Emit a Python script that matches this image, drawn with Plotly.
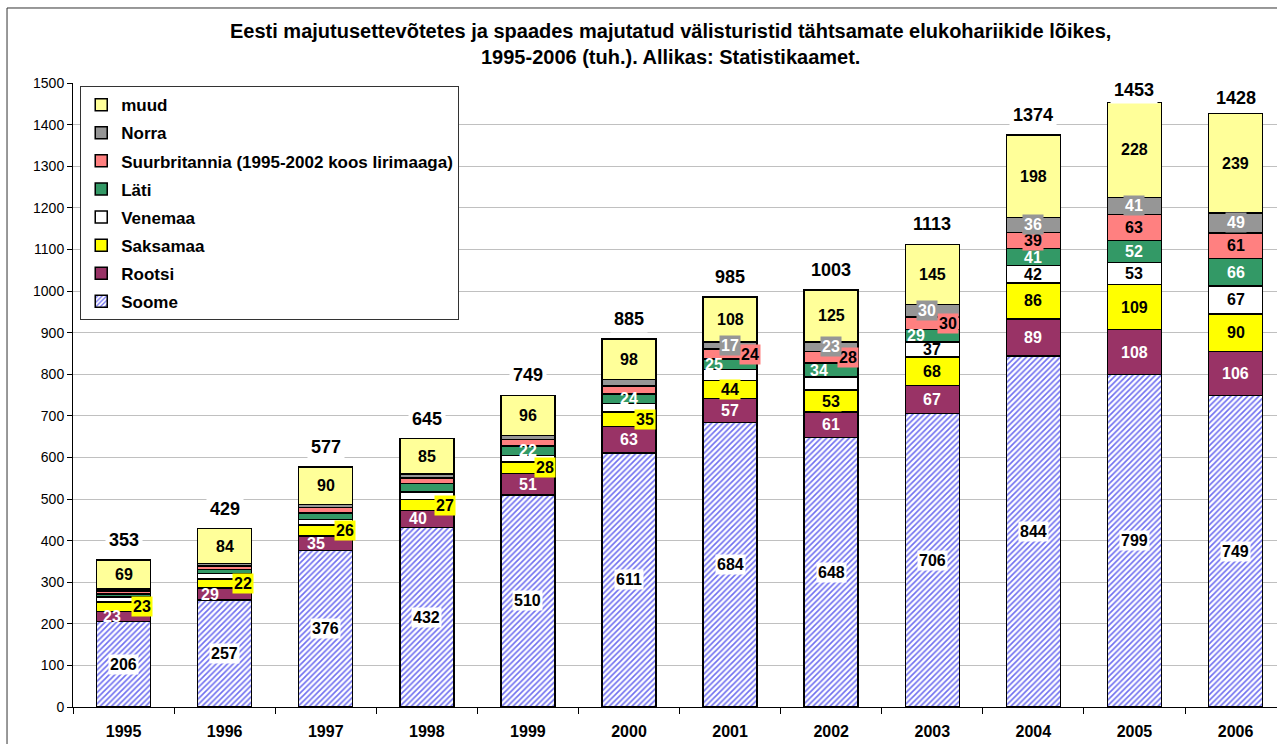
import plotly.graph_objects as go

years = ["1995", "1996", "1997", "1998", "1999", "2000", "2001", "2002", "2003", "2004", "2005", "2006"]
soome = [206, 257, 376, 432, 510, 611, 684, 648, 706, 844, 799, 749]
rootsi = [23, 29, 35, 40, 51, 63, 57, 61, 67, 89, 108, 106]
saksamaa = [23, 22, 26, 27, 28, 35, 44, 53, 68, 86, 109, 90]
venemaa = [12, 13, 14, 18, 16, 20, 26, 31, 37, 42, 53, 67]
lati = [8, 9, 15, 20, 22, 24, 25, 34, 29, 41, 52, 66]
suurbritannia = [7, 9, 13, 14, 16, 19, 24, 28, 30, 39, 63, 61]
norra = [5, 6, 8, 9, 10, 15, 17, 23, 30, 36, 41, 49]
muud = [69, 84, 90, 85, 96, 98, 108, 125, 145, 198, 228, 239]
totals = [353, 429, 577, 645, 749, 885, 985, 1003, 1113, 1374, 1453, 1428]

names = ["Soome", "Rootsi", "Saksamaa", "Venemaa", "Läti",
         "Suurbritannia (1995-2002 koos Iirimaaga)", "Norra", "muud"]
series = [soome, rootsi, saksamaa, venemaa, lati, suurbritannia, norra, muud]
colors = ["#ffffff", "#993366", "#ffff00", "#ffffff", "#339966", "#ff8080", "#969696", "#ffff99"]

# label styling: which years get a label, text colour, background, horizontal shift (px)
label_style = [
    dict(show=[1] * 12, color="black", bg="white", shift=[0] * 12),
    dict(show=[1] * 12, color="white", bg=None, shift=[-12, -15, -10, -9, 0, 0, 0, 0, 0, 0, 0, 0]),
    dict(show=[1] * 12, color="black", bg="#ffff00", shift=[18, 18, 19, 18, 17, 16, 0, 0, 0, 0, 0, 0]),
    dict(show=[0] * 8 + [1] * 4, color="black", bg=None, shift=[0] * 12),
    dict(show=[0] * 4 + [1] * 8, color="white", bg=None, shift=[0, 0, 0, 0, 0, 0, -16, -12, -16, 0, 0, 0]),
    dict(show=[0] * 6 + [1] * 6, color="black", bg="#ff8080", shift=[0] * 6 + [20, 17, 16, 0, 0, 0]),
    dict(show=[0] * 6 + [1] * 6, color="white", bg="#969696", shift=[0] * 8 + [-5, 0, 0, 0]),
    dict(show=[1] * 12, color="black", bg=None, shift=[0] * 12),
]
total_yshift = [6] * 10 + [-1, 1]

FONT = "Liberation Sans, Arial, sans-serif"

fig = go.Figure()
for i, (nm, vals, col) in enumerate(zip(names, series, colors)):
    marker = dict(color=col, line=dict(color="black", width=1.5))
    if i == 0:
        marker["pattern"] = dict(shape="/", fgcolor="#7070f0", bgcolor="white",
                                 size=4, solidity=0.4, fillmode="replace")
    fig.add_trace(go.Bar(x=years, y=vals, name=nm, marker=marker,
                         legendgroup=nm, legendrank=100 - i))

annotations = []
cum = [0] * 12
for vals, st in zip(series, label_style):
    for j, v in enumerate(vals):
        mid = cum[j] + v / 2
        if st["show"][j]:
            a = dict(x=j, y=mid, xref="x", yref="y", text=str(v), showarrow=False,
                     xshift=st["shift"][j],
                     font=dict(family=FONT, size=16, color=st["color"], weight="bold"),
                     borderpad=1)
            if st["bg"]:
                a["bgcolor"] = st["bg"]
            annotations.append(a)
        cum[j] += v

for j, t in enumerate(totals):
    annotations.append(dict(x=j, y=cum[j], xref="x", yref="y", text=str(t),
                            showarrow=False, yanchor="bottom", yshift=total_yshift[j],
                            bgcolor="white", borderpad=3,
                            font=dict(family=FONT, size=18, color="black", weight="bold")))

# chart title
annotations.append(dict(
    text="Eesti majutusettevõtetes ja spaades majutatud välisturistid tähtsamate elukohariikide lõikes,<br>1995-2006 (tuh.). Allikas: Statistikaamet.",
    xref="paper", yref="paper", x=(670 - 73) / 1204, y=1 + (83 - 18) / 624,
    xanchor="center", yanchor="top", showarrow=False,
    font=dict(family=FONT, size=20, color="black", weight="bold")))

fig.update_layout(
    width=1277, height=744,
    barmode="stack", bargap=0.466,
    paper_bgcolor="white", plot_bgcolor="white",
    margin=dict(l=73, r=0, t=83, b=37),
    font=dict(family=FONT, color="black"),
    legend=dict(x=0.006, y=0.995, xanchor="left", yanchor="top",
                bordercolor="#333333", borderwidth=1, bgcolor="white",
                font=dict(family=FONT, size=17, color="black", weight="bold"),
                tracegroupgap=3, traceorder="grouped"),
    annotations=annotations,
    shapes=[
        dict(type="line", xref="paper", yref="paper", x0=-0.0548, x1=1.1, y0=1.1202, y1=1.1202,
             line=dict(color="#333333", width=1)),
        dict(type="line", xref="paper", yref="paper", x0=-0.0548, x1=-0.0548, y0=1.1202, y1=-0.2,
             line=dict(color="#333333", width=1)),
    ],
)
fig.update_xaxes(type="category", range=[-0.5, 11.41], showline=True, linecolor="black",
                 linewidth=1, ticks="outside", tickson="boundaries", ticklen=6,
                 tickcolor="black", showgrid=False, ticklabelstandoff=10,
                 tickfont=dict(family=FONT, size=16, color="black", weight="bold"))
fig.update_yaxes(range=[0, 1500], dtick=100, showline=True, linecolor="black", linewidth=1,
                 ticks="outside", ticklen=5, tickcolor="black", gridcolor="#c0c0c0",
                 zeroline=False, tickfont=dict(family=FONT, size=14, color="black"))

fig.write_html("out.html", config={"displayModeBar": False},
               post_script="document.body.style.margin='0';")
